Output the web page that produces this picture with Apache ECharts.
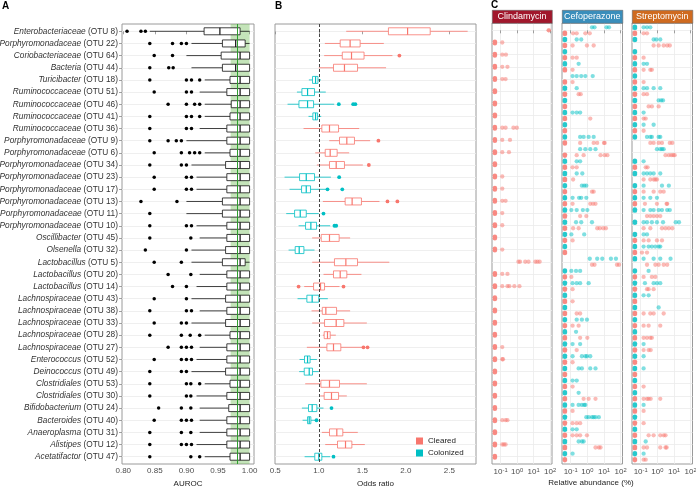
<!DOCTYPE html>
<html><head><meta charset="utf-8">
<script src="https://cdn.jsdelivr.net/npm/echarts@6/dist/echarts.min.js"></script>
<style>html,body{margin:0;padding:0;background:#fff}#c{width:696px;height:488px}</style>
</head><body><div id="c"></div>
<script>
const FF = "'Liberation Sans', Arial, Helvetica, sans-serif";
const RED = '#F8766D', TEAL = '#00BFC4';

// ---- rows (top to bottom) ----
const taxa = ['Enterobacteriaceae','Porphyromonadaceae','Coriobacteriaceae','Bacteria','Turicibacter','Ruminococcaceae','Ruminococcaceae','Ruminococcaceae','Ruminococcaceae','Porphyromonadaceae','Porphyromonadaceae','Porphyromonadaceae','Porphyromonadaceae','Porphyromonadaceae','Porphyromonadaceae','Porphyromonadaceae','Porphyromonadaceae','Oscillibacter','Olsenella','Lactobacillus','Lactobacillus','Lactobacillus','Lachnospiraceae','Lachnospiraceae','Lachnospiraceae','Lachnospiraceae','Lachnospiraceae','Enterococcus','Deinococcus','Clostridiales','Clostridiales','Bifidobacterium','Bacteroides','Anaeroplasma','Alistipes','Acetatifactor'];
const otus = [8,22,64,44,18,51,46,41,36,9,6,34,23,17,13,11,10,45,32,5,20,14,43,38,33,28,27,52,49,53,30,24,40,31,12,47];

// ---- Panel A: AUROC ----
const aucTicks = [0.80,0.85,0.90,0.95,1.00];
const aucLow  = [0.842,0.908,0.900,0.908,0.929,0.921,0.929,0.929,0.921,0.900,0.929,0.908,0.916,0.916,0.900,0.900,0.916,0.921,0.908,0.908,0.921,0.916,0.908,0.921,0.908,0.929,0.921,0.916,0.908,0.929,0.916,0.921,0.921,0.921,0.916,0.929];
const aucQ1   = [0.928,0.957,0.955,0.957,0.969,0.964,0.971,0.969,0.964,0.964,0.969,0.962,0.964,0.964,0.957,0.957,0.964,0.964,0.962,0.957,0.964,0.964,0.962,0.964,0.962,0.969,0.964,0.964,0.962,0.969,0.964,0.967,0.964,0.964,0.964,0.969];
const aucMed  = [0.953,0.978,0.985,0.978,0.985,0.985,0.985,0.985,0.985,0.985,0.985,0.985,0.985,0.985,0.985,0.985,0.985,0.985,0.985,0.985,0.985,0.985,0.985,0.985,0.985,0.985,0.985,0.985,0.985,0.985,0.985,0.985,0.985,0.985,0.985,0.985];
const aucQ3   = [0.985,0.993,1,1,1,1,1,1,1,1,1,1,1,1,1,1,1,1,1,0.993,1,1,1,1,1,1,1,1,1,1,1,1,1,1,1,1];
const aucHigh = [1,1,1,1,1,1,1,1,1,1,1,1,1,1,1,1,1,1,1,1,1,1,1,1,1,1,1,1,1,1,1,1,1,1,1,1];
const aucOut  = [[0.806,0.828,0.835],[0.842,0.878,0.892,0.900],[0.849,0.878],[0.842,0.872,0.879],[0.842,0.900,0.908,0.921],[0.849,0.900,0.908],[0.871,0.900,0.913,0.921],[0.842,0.900,0.908,0.921],[0.842,0.900,0.908],[0.842,0.871,0.884,0.892],[0.849,0.892,0.905,0.913,0.921],[0.842,0.892,0.900],[0.849,0.900,0.908],[0.849,0.900,0.908],[0.828,0.885],[0.842],[0.842,0.900,0.908],[0.842,0.907],[0.835,0.900],[0.849,0.892],[0.871,0.907],[0.878,0.900],[0.849,0.900],[0.842,0.900,0.908],[0.849,0.892,0.900],[0.842,0.892,0.906,0.921],[0.871,0.892,0.900,0.908],[0.849,0.892,0.900,0.908],[0.842,0.892,0.900],[0.842,0.900,0.907,0.921],[0.842,0.900,0.907],[0.856,0.892,0.907],[0.849,0.892,0.900,0.908],[0.842,0.892,0.907],[0.842,0.892,0.900,0.908],[0.842,0.907,0.921]];
const aucBand = [0.97, 1.0];
const aucLine = 0.985;

// ---- Panel B: odds ratio ----
const orTicks = [0.5,1.0,1.5,2.0,2.5];
const orGroup = ['Cleared','Cleared','Cleared','Cleared','Colonized','Colonized','Colonized','Colonized','Cleared','Cleared','Cleared','Cleared','Colonized','Colonized','Cleared','Colonized','Colonized','Cleared','Colonized','Cleared','Cleared','Cleared','Colonized','Cleared','Cleared','Cleared','Cleared','Colonized','Colonized','Cleared','Cleared','Colonized','Colonized','Cleared','Cleared','Colonized'];
const orLow  = [1.315,1.07,1.062,1.0,0.886,0.749,0.641,0.882,0.825,1.12,0.959,0.978,0.607,0.664,1.047,0.626,0.768,0.924,0.653,0.924,1.054,0.833,0.756,0.917,0.924,1.047,0.863,0.779,0.775,0.844,1.016,0.806,0.814,1.035,1.074,0.837];
const orQ1   = [1.80,1.246,1.27,1.169,0.928,0.806,0.772,0.932,1.035,1.238,1.074,1.123,0.779,0.802,1.303,0.722,0.848,1.028,0.729,1.18,1.169,0.94,0.863,1.04,1.066,1.062,1.093,0.836,0.833,1.024,1.062,0.882,0.871,1.123,1.215,0.954];
const orMed  = [2.02,1.36,1.376,1.295,0.963,0.871,0.871,0.963,1.123,1.322,1.131,1.2,0.856,0.856,1.383,0.787,0.909,1.123,0.775,1.311,1.246,1.02,0.924,1.081,1.2,1.10,1.169,0.871,0.89,1.123,1.146,0.924,0.89,1.207,1.307,1.0];
const orQ3   = [2.28,1.475,1.52,1.445,0.99,0.951,0.94,0.986,1.227,1.41,1.211,1.295,0.951,0.905,1.49,0.856,0.974,1.234,0.829,1.445,1.322,1.066,1.0,1.204,1.288,1.131,1.253,0.90,0.928,1.238,1.227,0.978,0.909,1.276,1.38,1.035];
const orHigh = [2.71,1.747,1.846,1.773,1.024,1.08,1.177,1.028,1.464,1.59,1.349,1.506,1.139,1.093,1.697,1.0,1.131,1.36,0.951,1.81,1.49,1.238,1.104,1.36,1.552,1.196,1.494,0.978,1.0,1.552,1.322,1.054,0.959,1.448,1.529,1.131];
const orOut  = [[],[],[1.926],[],[],[],[1.23,1.395,1.42],[],[],[1.685],[],[1.575],[1.234],[1.10,1.27],[1.789,1.903],[1.054],[1.18,1.20],[],[],[],[],[0.768,1.284],[],[],[],[],[1.513,1.56],[],[],[],[],[1.146],[0.974],[],[],[1.169]];
const orRef = 1.0;

// ---- Panel C: relative abundance (%) ----
const abxNames = ['Clindamycin','Cefoperazone','Streptomycin'];
const abxColors = ['#A1172C','#3A8EBB','#CF6A1F'];
const abundTickExp = [-1,0,1,2];
const clindaCleared = [[80,85],[0.045,0.126],[0.045,0.126,0.21],[0.045,0.126,0.26],[0.045,0.126,0.2],[0.045],[0.045],[0.045],[0.045,0.126,0.2,0.6,0.96],[0.045,0.126,0.37],[0.045,0.126,0.32],[0.045],[0.045,0.126],[0.045,0.126],[0.045,0.126,0.2],[0.045,0.126],[0.045,0.126],[0.045],[0.045,0.126],[1.2,1.5,3.1,4.9,12.6,17,23],[0.045,0.126,0.26],[0.045,0.126,0.26,0.34,0.68,1.38],[0.045],[0.045],[0.045],[0.045],[0.045,0.126],[0.045,0.126,0.14],[0.045],[0.045],[0.045],[0.045],[0.045,0.126,0.2,0.26],[0.045],[0.045,0.126,0.16,0.2],[0.045]];
const clindaColonized = [[],[],[],[],[],[],[],[],[],[],[],[],[],[],[],[],[],[],[],[],[],[],[],[],[],[],[],[],[],[],[],[],[],[],[],[]];
const cefoColonized = [[1.9,2.7,14,20],[0.045,0.23,0.43],[0.045],[0.045,0.3],[0.13,0.23,0.43,0.76,2.1],[0.045,0.23],[0.045],[0.045,0.13,0.23,0.37],[0.045],[0.045,0.37,0.6,1.2,2.4],[0.37,0.76,1.5,3.1],[0.045,0.23,0.37],[0.045,0.23,0.5],[0.045,0.47,0.65,0.87],[0.045,0.13,0.32,0.43,0.87],[0.045,0.11,0.23,0.54,1.0],[0.045,0.21,0.43,1.9],[0.045,0.11,0.65],[0.045],[1.4,3.9,7.9,26,52],[0.045,0.11,0.21,0.37],[0.045,0.13,0.23,0.37,1.2],[0.045],[0.045],[0.045,0.23,0.47,0.95],[0.045,0.21],[0.045,0.13,0.37],[0.045,0.13,0.47,0.76,0.95,1.5],[0.045,0.3,0.47,1.5,3.1],[0.045,0.13,0.23],[0.045,0.3],[0.045,0.13,0.3,0.47,0.65,0.76],[0.045,0.87,1.2,1.9,2.4,3.1,4.9],[0.045,0.13,0.23],[0.045,0.3,0.47,0.6],[0.045,0.13]];
const cefoCleared = [[0.045,0.14,0.23,0.76,1.4],[0.045,0.13,0.95,2.4],[0.045,0.13,0.23],[0.045,0.13],[0.045,0.13],[0.045,0.3,0.4],[0.045],[0.045,1.5],[0.045],[0.045,0.37,2.4,3.9,10,11],[0.045,0.23,0.6,6.2,11,16],[0.045,0.13,0.23],[0.045,0.14],[0.045,1.9,2.4],[0.045,0.13,1.5,2.2,3.1],[0.045,0.37,0.87],[0.045,0.14,0.3,3.9,5.6,9,13],[0.045,0.13],[0.045],[1.9,2.7,60,80],[0.045,0.11],[0.045,0.13],[0.045,0.13],[0.045,0.23,0.37],[0.045,0.13,0.3],[0.045,0.37,1.0],[0.045,0.23],[0.045,0.13],[0.045],[0.045,0.13],[0.045,0.6,1.2,3.1],[0.045,0.13],[0.045,0.13,0.23,0.37],[0.045,0.13,0.23,0.37,0.95],[0.045,3.1,4.9,6.2],[0.045]];
const strepColonized = [[0.045,0.15,0.24,0.38],[0.045,0.6,0.87,1.5],[0.045],[0.045,0.15,0.24],[0.045],[0.045,0.15,0.24,0.6,1.5],[0.045,1.2,1.7,2.2],[0.045,0.15],[0.045,0.15,0.6],[0.045,0.24,0.38,0.47,1.2,1.5],[0.95,1.5,1.9,2.4],[0.045,0.15],[0.045,0.15,0.24,0.38,0.6,1.5],[0.045,0.15,1.9,4.9],[0.045,0.15,0.38,0.95],[0.045,0.15,0.38,0.6,1.2,1.9,3.9,5.6],[0.045,0.15,0.24,0.47,0.95,2.2,12.7,20],[0.045,0.15,0.24],[0.045,0.15,0.3,0.47,0.76,1.2,1.5],[0.045,0.15,0.6,1.5,6.2],[0.045,0.3],[0.045,0.18,0.6,0.95,1.5],[0.045,0.15,0.3],[0.045,1.2],[0.045],[0.045],[0.045,0.15],[0.045,0.15],[0.045,0.15],[0.045],[0.045],[0.045,0.15],[0.045],[0.045],[0.045,0.2],[0.045,0.15]];
const strepCleared = [[0.045,0.15,0.24],[0.6,1.2,2.4,3.9,5.6],[0.045,0.15],[0.045,0.15,0.38,0.47],[0.045,0.15],[0.045,0.15,0.24],[0.045,0.3,0.47,1.2],[0.045,0.15,0.2],[0.045,0.15],[0.38,0.6,1.2,1.9,5.6,7.9],[3.1,4.9,6.9,9,11],[0.045,0.2,0.26],[0.15,0.38,0.6,0.76,0.95],[0.045,0.15,0.6,1.5,2.4],[0.045,0.18,0.95,3.6,3.9],[0.24,0.38,0.6,0.95,1.5],[0.15,0.38,1.9,3.1,4.9,7.9],[0.045,0.15,0.3,0.95,1.9],[0.045,0.12,0.24],[0.24,0.76,1.2,2.4,3.9],[0.045,0.15,0.47,0.76],[0.045,0.24,0.3,0.6],[0.045],[0.045,0.15,0.38,0.6,2.4],[0.045,0.15,0.3,1.5],[0.045,0.15,0.24,0.38,0.47],[0.045,0.15,0.3,0.4],[0.045],[0.045],[0.045,0.15],[0.045,0.15,0.24,0.3,0.4,1.5],[0.045,0.15],[0.045,0.15],[0.045,0.3,0.6,1.5,2.4,3.1],[0.045,0.15,0.24,1.5,3.1,3.6],[0.045,0.15,0.2]];

// ---------------- build ----------------
const rowIdx = taxa.map((_, i) => i);
const Y_MIN = -0.6, Y_MAX = taxa.length - 1 + 0.6;
const GRID_COL = '#EBEBEB', FRAME = '#9a9a9a', TXT = '#4D4D4D';

const grids = [
  {left:122, top:24, width:132, height:440},
  {left:275, top:24, width:201, height:440},
  {left:492, top:23, width:60, height:441},
  {left:562, top:23, width:60.5, height:441},
  {left:632, top:23, width:60.5, height:441}
].map(g => Object.assign(g, {show:true, borderColor:FRAME, borderWidth:1, backgroundColor:'#fff', containLabel:false, outerBoundsMode:'none'}));

function yAxisFor(gi, withLabels) {
  return {
    gridIndex: gi, type:'value', min:Y_MIN, max:Y_MAX, inverse:true,
    axisLine:{show:false},
    axisTick:{show:withLabels, length:3, lineStyle:{color:'#888', width:0.8}, customValues: rowIdx},
    axisLabel:{show:withLabels, customValues: rowIdx, margin:4, fontSize:8.3, fontFamily:FF,
      formatter: v => { const i = Math.round(v); return '{i|' + taxa[i] + '}{n| (OTU ' + otus[i] + ')}'; },
      rich:{ i:{fontStyle:'italic', fontSize:8.3, color:'#333', fontFamily:FF}, n:{fontSize:8.3, color:'#333', fontFamily:FF} } },
    splitLine:{show:true, customValues: rowIdx, lineStyle:{color:GRID_COL, width:0.8}}
  };
}
function baseX(gi, min, max, ticks, fmt, extra) {
  return Object.assign({
    gridIndex: gi, type:'value', min:min, max:max,
    axisLine:{show:false},
    axisTick:{show:true, length:3, lineStyle:{color:'#888', width:0.8}, customValues:ticks},
    axisLabel:{customValues:ticks, margin:3, fontSize:8, color:TXT, fontFamily:FF, formatter:fmt},
    splitLine:{show:false, customValues:ticks}
  }, extra || {});
}

const xAxes = [
  baseX(0, 0.798, 1.007, aucTicks, v => v.toFixed(2), {name:'AUROC', nameLocation:'middle', nameGap:12, nameTextStyle:{fontSize:8, color:'#222', fontFamily:FF}}),
  baseX(1, 0.497, 2.806, orTicks, v => v.toFixed(1), {name:'Odds ratio', nameLocation:'middle', nameGap:12, nameTextStyle:{fontSize:8, color:'#222', fontFamily:FF}})
];
for (let k = 0; k < 3; k++) {
  const ax = baseX(2 + k, -1.52, 2.11, abundTickExp, v => '{b|10}{s|' + Math.round(v) + '}');
  ax.axisLabel.rich = { b:{fontSize:8, color:TXT, fontFamily:FF}, s:{fontSize:5.8, color:TXT, fontFamily:FF, verticalAlign:'top', padding:[0,0,4,0]} };
  ax.splitLine = {show:true, customValues:abundTickExp, lineStyle:{color:GRID_COL, width:0.8}};
  xAxes.push(ax);
}
const yAxes = [yAxisFor(0, true), yAxisFor(1, false), yAxisFor(2, false), yAxisFor(3, false), yAxisFor(4, false)];

function boxRenderer(color, boxH) {
  return function (params, api) {
    const row = api.value(0);
    const pLo = api.coord([api.value(1), row]);
    const pQ1 = api.coord([api.value(2), row]);
    const pMd = api.coord([api.value(3), row]);
    const pQ3 = api.coord([api.value(4), row]);
    const pHi = api.coord([api.value(5), row]);
    const y = pLo[1], h = boxH;
    return {type:'group', children:[
      {type:'line', shape:{x1:pLo[0], y1:y, x2:pQ1[0], y2:y}, style:{stroke:color, lineWidth:0.8}},
      {type:'line', shape:{x1:pQ3[0], y1:y, x2:pHi[0], y2:y}, style:{stroke:color, lineWidth:0.8}},
      {type:'rect', shape:{x:pQ1[0], y:y - h/2, width:Math.max(pQ3[0] - pQ1[0], 0.5), height:h}, style:{fill:'#fff', stroke:color, lineWidth:0.8}},
      {type:'line', shape:{x1:pMd[0], y1:y - h/2, x2:pMd[0], y2:y + h/2}, style:{stroke:color, lineWidth:1.2}}
    ]};
  };
}

const series = [];
// Panel B first (legend colours)
['Cleared','Colonized'].forEach(g => {
  const col = g === 'Cleared' ? RED : TEAL;
  const data = [];
  rowIdx.forEach(i => { if (orGroup[i] === g) data.push([i, orLow[i], orQ1[i], orMed[i], orQ3[i], orHigh[i]]); });
  series.push({type:'custom', name:g, xAxisIndex:1, yAxisIndex:1, z:3, clip:false, itemStyle:{color:col},
    encode:{x:[1,2,3,4,5], y:0}, renderItem: boxRenderer(col, 7), data:data});
  const out = [];
  rowIdx.forEach(i => { if (orGroup[i] === g) orOut[i].forEach(v => out.push([v, i])); });
  series.push({type:'scatter', name:g, xAxisIndex:1, yAxisIndex:1, z:4, symbolSize:3.8, itemStyle:{color:col, opacity:1}, data:out, silent:true});
});
// dashed reference line in B
series.push({type:'scatter', xAxisIndex:1, yAxisIndex:1, z:2, data:[], silent:true,
  markLine:{silent:true, symbol:'none', label:{show:false}, lineStyle:{type:[3,2], color:'#444', width:1}, data:[{xAxis:orRef}]}});

// Panel A
series.push({type:'custom', xAxisIndex:0, yAxisIndex:0, z:3, clip:false,
  encode:{x:[1,2,3,4,5], y:0}, renderItem: boxRenderer('#111', 7),
  data: rowIdx.map(i => [i, aucLow[i], aucQ1[i], aucMed[i], aucQ3[i], aucHigh[i]])});
const aOut = [];
rowIdx.forEach(i => aucOut[i].forEach(v => aOut.push([v, i])));
series.push({type:'scatter', xAxisIndex:0, yAxisIndex:0, z:4, symbolSize:3.5, itemStyle:{color:'#000', opacity:1}, data:aOut, silent:true});
series.push({type:'scatter', xAxisIndex:0, yAxisIndex:0, z:6, data:[], silent:true,
  markArea:{silent:true, itemStyle:{color:'rgba(100,184,72,0.38)'}, data:[[{xAxis:aucBand[0]},{xAxis:aucBand[1]}]]},
  markLine:{silent:true, symbol:'none', label:{show:false}, lineStyle:{type:'solid', color:'#2E9E2E', width:1}, data:[{xAxis:aucLine}]}});

// Panel C
const capsule = 'path://M0,10 A10,10 0 0 1 20,10 L20,20 A10,10 0 0 1 0,20 Z';
function abundPoints(rows, zeroH) {
  const out = [];
  rows.forEach((vals, r) => vals.forEach(v => {
    const zero = v <= 0.05;
    out.push({value:[Math.log10(v), r], symbol: zero ? capsule : 'circle',
      symbolSize: zero ? [4.5, zeroH] : 4.3, itemStyle:{opacity: zero ? 0.85 : 0.5}});
  }));
  return out;
}
const cSets = [
  [clindaCleared, clindaColonized],
  [cefoCleared, cefoColonized],
  [strepCleared, strepColonized]
];
cSets.forEach((pair, k) => {
  const both = pair[1].some(a => a.length);
  series.push({type:'scatter', name:'Colonized', xAxisIndex:2+k, yAxisIndex:2+k, z:3, silent:true,
    symbolOffset:[0, both ? -3 : 0], itemStyle:{color:TEAL}, data: abundPoints(pair[1], both ? 5.5 : 6)});
  series.push({type:'scatter', name:'Cleared', xAxisIndex:2+k, yAxisIndex:2+k, z:3, silent:true,
    symbolOffset:[0, both ? 3 : 0], itemStyle:{color:RED}, data: abundPoints(pair[0], both ? 5.5 : 6)});
});

// strips and panel letters
const graphics = [];
abxNames.forEach((nm, k) => {
  const g = grids[2 + k];
  graphics.push({type:'rect', left:g.left, top:10, shape:{width:g.width, height:13}, style:{fill:abxColors[k], stroke:'#666', lineWidth:0.6}, z:10});
  graphics.push({type:'text', x:g.left + g.width/2, y:16.5, style:{text:nm, fill:'#fff', fontSize:9, fontFamily:FF, align:'center', verticalAlign:'middle'}, z:11});
});
graphics.push({type:'text', x:591, y:483, style:{text:'Relative abundance (%)', fill:'#222', fontSize:8, fontFamily:FF, align:'center', verticalAlign:'middle'}});
[['A',2,1],['B',275,1],['C',491,0]].forEach(t => graphics.push({type:'text', x:t[1], y:t[2], style:{text:t[0], fill:'#000', fontSize:10, fontWeight:'bold', fontFamily:FF}}));

const chart = echarts.init(document.getElementById('c'), null, {renderer:'canvas'});
chart.setOption({
  animation:false,
  backgroundColor:'#fff',
  textStyle:{fontFamily:FF},
  grid: grids,
  xAxis: xAxes,
  yAxis: yAxes,
  legend:{data:[{name:'Cleared', icon:'rect'},{name:'Colonized', icon:'rect'}], orient:'vertical', left:411, top:432,
    itemWidth:7, itemHeight:7, itemGap:4, selectedMode:false, textStyle:{fontSize:8, color:'#222', fontFamily:FF}},
  series: series,
  graphic: graphics
});
</script></body></html>
